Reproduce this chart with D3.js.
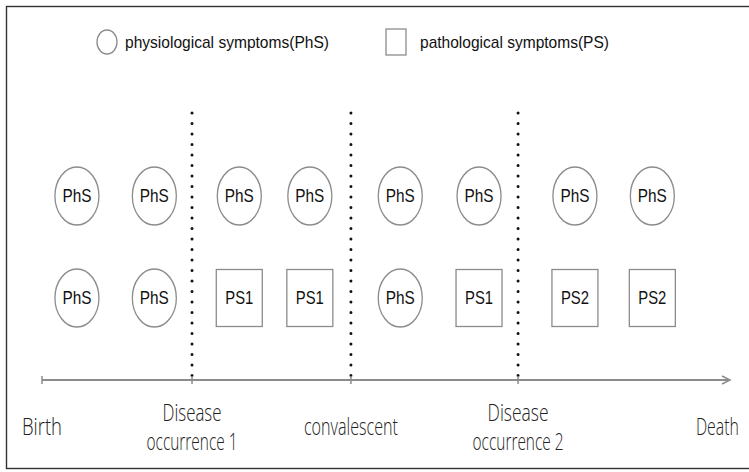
<!DOCTYPE html>
<html>
<head>
<meta charset="utf-8">
<script src="https://d3js.org/d3.v7.min.js"></script>
<style>
  body { margin: 0; background: #fff; }
  svg { display: block; }
</style>
</head>
<body>
<div id="chart"></div>
<script>
// timeline stages (position on a 0-100 life scale)
const stageNames = [["Birth"], ["Disease", "occurrence 1"], ["convalescent"], ["Disease", "occurrence 2"], ["Death"]];
const stageTimes = [0, 21.9, 45.1, 69.5, 100];
const labelTimes = [0, 21.9, 45.1, 69.5, 98.6];
// label widths in px per line (the original font is very condensed)
const stageWidths = [[40], [59, 91], [94], [61, 91], [43]];
const dividerTimes = [21.9, 45.1, 69.5];

// symbol columns along the timeline
const columnTimes = [5.1, 16.4, 28.8, 39.1, 52.3, 63.8, 77.8, 89.1];
const rowTop = ["PhS", "PhS", "PhS", "PhS", "PhS", "PhS", "PhS", "PhS"];
const rowBottom = ["PhS", "PhS", "PS1", "PS1", "PhS", "PS1", "PS2", "PS2"];
const rows = ["top", "bottom"];

const legendItems = [
  { shape: "circle", label: "physiological symptoms(PhS)" },
  { shape: "square", label: "pathological symptoms(PS)" }
];

const width = 749, height = 472;
const svg = d3.select("#chart").append("svg")
  .attr("width", width).attr("height", height);

// outer frame
svg.append("rect")
  .attr("x", 6.5).attr("y", 6.5)
  .attr("width", 770).attr("height", 462)
  .attr("fill", "none").attr("stroke", "#333").attr("stroke-width", 1.4);

const x = d3.scaleLinear().domain([0, 100]).range([42, 727]);
const y = d3.scalePoint().domain(rows).range([196, 298]);
const axisY = 380;

const grey = "#8c8c8c";
const sans = "'Liberation Sans', Arial, sans-serif";

// legend
const legendX = [107, 396];
const leg = svg.append("g").selectAll("g").data(legendItems).join("g")
  .attr("transform", (d, i) => `translate(${legendX[i]},42)`);
leg.filter(d => d.shape === "circle").append("ellipse")
  .attr("rx", 10).attr("ry", 12)
  .attr("fill", "none").attr("stroke", grey).attr("stroke-width", 1.3);
leg.filter(d => d.shape === "square").append("rect")
  .attr("x", -10).attr("y", -13).attr("width", 20).attr("height", 26)
  .attr("fill", "none").attr("stroke", grey).attr("stroke-width", 1.3);
leg.append("text")
  .attr("x", (d, i) => i === 0 ? 18 : 24)
  .attr("dy", "0.35em")
  .attr("font-family", sans)
  .attr("font-size", 17)
  .attr("textLength", (d, i) => i === 0 ? 204 : 189)
  .attr("lengthAdjust", "spacingAndGlyphs")
  .attr("fill", "#111")
  .text(d => d.label);

// dotted dividers
svg.append("g").selectAll("line").data(dividerTimes).join("line")
  .attr("x1", d => x(d)).attr("x2", d => x(d))
  .attr("y1", 113).attr("y2", axisY - 4)
  .attr("stroke", "#111").attr("stroke-width", 3)
  .attr("stroke-linecap", "round")
  .attr("stroke-dasharray", "0 10.5");

// symbols
const cells = [];
columnTimes.forEach((t, i) => {
  cells.push({ t, row: "top", label: rowTop[i] });
  cells.push({ t, row: "bottom", label: rowBottom[i] });
});
const sym = svg.append("g").selectAll("g").data(cells).join("g")
  .attr("transform", d => `translate(${x(d.t)},${y(d.row)})`);
sym.filter(d => d.label === "PhS").append("ellipse")
  .attr("rx", 22).attr("ry", 29)
  .attr("fill", "none").attr("stroke", grey).attr("stroke-width", 1.3);
sym.filter(d => d.label !== "PhS").append("rect")
  .attr("x", -23).attr("y", -28.5).attr("width", 46).attr("height", 57)
  .attr("fill", "none").attr("stroke", grey).attr("stroke-width", 1.3);
sym.append("text")
  .attr("text-anchor", "middle").attr("dy", "0.36em")
  .attr("font-family", sans)
  .attr("font-size", 18)
  .attr("textLength", d => d.label === "PhS" ? 29 : 28)
  .attr("lengthAdjust", "spacingAndGlyphs")
  .attr("fill", "#111")
  .text(d => d.label);

// timeline axis
const axis = svg.append("g");
axis.append("line")
  .attr("x1", x(0)).attr("x2", x(100) + 2)
  .attr("y1", axisY).attr("y2", axisY)
  .attr("stroke", grey).attr("stroke-width", 2);
axis.append("path")
  .attr("d", `M${x(100) - 5},${axisY - 4} L${x(100) + 3},${axisY} L${x(100) - 5},${axisY + 4}`)
  .attr("fill", "none").attr("stroke", grey).attr("stroke-width", 1.5);
axis.selectAll(".tick").data(stageTimes.slice(0, 4)).join("line")
  .attr("class", "tick")
  .attr("x1", d => x(d)).attr("x2", d => x(d))
  .attr("y1", axisY - 4).attr("y2", axisY + 4)
  .attr("stroke", grey).attr("stroke-width", 1.5);

// stage labels
const lab = svg.append("g").selectAll("text").data(stageNames).join("text")
  .attr("text-anchor", "middle")
  .attr("font-family", "'Open Sans', sans-serif")
  .attr("font-weight", 300)
  .attr("font-size", 23)
  .attr("fill", "#222")
  .attr("transform", (d, i) => `translate(${x(labelTimes[i])},${d.length > 1 ? 421 : 435})`);
lab.selectAll("tspan").data((d, i) => d.map((s, j) => ({ s, w: stageWidths[i][j] }))).join("tspan")
  .attr("x", 0)
  .attr("dy", (d, j) => j === 0 ? 0 : 29)
  .attr("textLength", d => d.w)
  .attr("lengthAdjust", "spacingAndGlyphs")
  .text(d => d.s);
</script>
</body>
</html>
